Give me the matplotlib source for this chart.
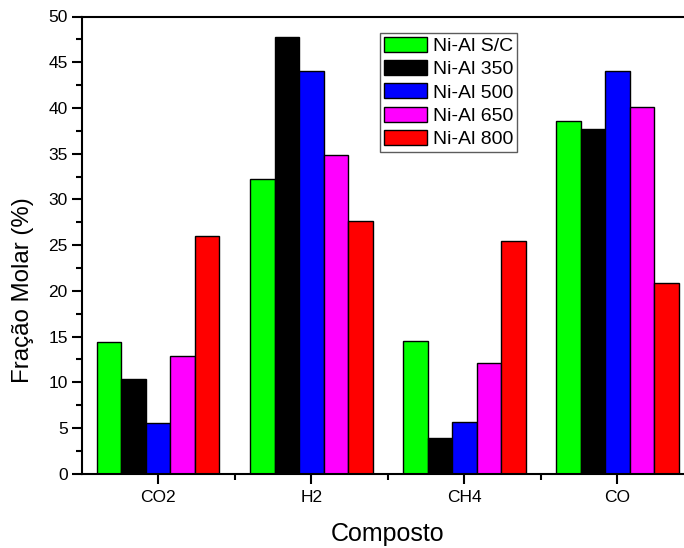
import matplotlib
matplotlib.use("Agg")
import matplotlib.pyplot as plt
from matplotlib.ticker import MultipleLocator, FixedLocator
import numpy as np

plt.rcParams['font.family'] = ['Liberation Sans', 'DejaVu Sans']

categories = ["CO2", "H2", "CH4", "CO"]
series_names = ["Ni-Al S/C", "Ni-Al 350", "Ni-Al 500", "Ni-Al 650", "Ni-Al 800"]
colors = ["#00ff00", "#000000", "#0000ff", "#ff00ff", "#ff0000"]
v_sc = [14.4, 32.2, 14.55, 38.6]
v_350 = [10.4, 47.8, 3.9, 37.75]
v_500 = [5.5, 44.0, 5.6, 44.0]
v_650 = [12.9, 34.85, 12.1, 40.1]
v_800 = [26.0, 27.6, 25.5, 20.85]
values = [v_sc, v_350, v_500, v_650, v_800]

W, H = 684, 548
fig = plt.figure(figsize=(W / 100, H / 100), dpi=100)
left = 81.7 / W
bottom = (H - 473.7) / H
width = (694 - 81.7) / W
height = (473.7 - 16.5) / H
ax = fig.add_axes([left, bottom, width, height])

x = np.arange(1, len(categories) + 1)
bw = 0.16
for i, (vals, c, name) in enumerate(zip(values, colors, series_names)):
    ax.bar(x + (i - 2) * bw, vals, width=bw, color=c, edgecolor="black",
           linewidth=1.0, label=name)

ax.set_xlim(0.5, 4.5)
ax.set_ylim(0, 50)
ax.set_xticks(x)
ax.set_xticklabels(categories)
ax.xaxis.set_minor_locator(FixedLocator([1.5, 2.5, 3.5]))
ax.yaxis.set_major_locator(MultipleLocator(5))
ax.yaxis.set_minor_locator(MultipleLocator(2.5))

for s in ax.spines.values():
    s.set_linewidth(1.5)
ax.tick_params(axis="both", which="major", direction="out", length=7, width=1.5,
               labelsize=12.5, top=False, right=False)
ax.tick_params(axis="both", which="minor", direction="out", length=4, width=1.5,
               top=False, right=False)
ax.tick_params(axis="x", which="major", pad=5)
ax.tick_params(axis="y", which="major", pad=3)

ax.set_xlabel("Composto", fontsize=18, labelpad=12)
ax.set_ylabel("Fração Molar (%)", fontsize=17.3)
ax.yaxis.set_label_coords(-0.078, 0.402)

leg = ax.legend(loc="upper left", bbox_to_anchor=(380 / W, 1 - 33 / H),
                bbox_transform=fig.transFigure, fontsize=14, frameon=True,
                fancybox=False, handlelength=2.2, handleheight=0.8,
                handletextpad=0.3, labelspacing=0.26, borderpad=0.2,
                borderaxespad=0)
leg.get_frame().set_edgecolor("#333333")
leg.get_frame().set_linewidth(1.0)

fig.savefig("out.png", dpi=100)
